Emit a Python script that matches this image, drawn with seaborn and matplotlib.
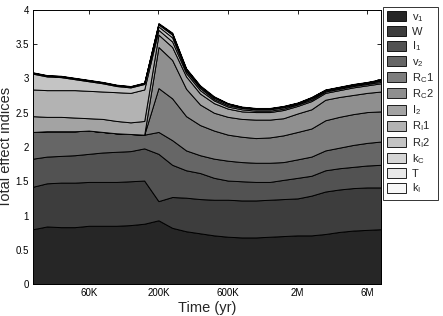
import numpy as np
import matplotlib
matplotlib.use("Agg")
import matplotlib.pyplot as plt
from matplotlib.patches import Patch
import seaborn as sns

times = [25.1e3, 31.6e3, 39.8e3, 50.1e3, 63.1e3, 79.4e3, 100e3, 126e3, 158e3,
         200e3, 251e3, 316e3, 398e3, 501e3, 631e3, 794e3, 1.0e6, 1.26e6, 1.58e6,
         2.0e6, 2.51e6, 3.16e6, 3.98e6, 5.01e6, 6.31e6, 7.94e6]

v1 = [0.80, 0.84, 0.83, 0.83, 0.85, 0.85, 0.85, 0.86, 0.88,
      0.93, 0.82, 0.77, 0.74, 0.71, 0.69, 0.68, 0.68, 0.69, 0.70, 0.71, 0.71, 0.73, 0.76, 0.78, 0.79, 0.80]
W = [0.62, 0.63, 0.65, 0.65, 0.64, 0.64, 0.64, 0.64, 0.63,
     0.28, 0.45, 0.49, 0.50, 0.52, 0.54, 0.54, 0.54, 0.54, 0.54, 0.54, 0.58, 0.62, 0.62, 0.62, 0.62, 0.61]
I1 = [0.41, 0.39, 0.39, 0.40, 0.41, 0.43, 0.44, 0.44, 0.47,
      0.69, 0.47, 0.40, 0.38, 0.32, 0.28, 0.28, 0.27, 0.26, 0.28, 0.30, 0.29, 0.31, 0.31, 0.31, 0.32, 0.33]
v2 = [0.39, 0.37, 0.36, 0.35, 0.34, 0.30, 0.27, 0.25, 0.20,
      0.32, 0.36, 0.29, 0.26, 0.28, 0.29, 0.28, 0.28, 0.28, 0.26, 0.27, 0.28, 0.29, 0.30, 0.32, 0.33, 0.34]
RC1 = [0, 0, 0, 0, 0, 0, 0, 0, 0,
       0.64, 0.61, 0.50, 0.44, 0.41, 0.38, 0.37, 0.36, 0.37, 0.39, 0.40, 0.41, 0.44, 0.45, 0.45, 0.45, 0.44]
RC2 = [0, 0, 0, 0, 0, 0, 0, 0, 0,
       0.60, 0.56, 0.40, 0.30, 0.26, 0.26, 0.26, 0.27, 0.26, 0.25, 0.27, 0.28, 0.30, 0.29, 0.28, 0.28, 0.29]
I2 = [0.23, 0.21, 0.21, 0.20, 0.18, 0.19, 0.18, 0.17, 0.20,
      0.18, 0.19, 0.18, 0.16, 0.14, 0.12, 0.11, 0.11, 0.11, 0.12, 0.11, 0.12, 0.10, 0.10, 0.11, 0.11, 0.12]
RI1 = [0.39, 0.39, 0.39, 0.40, 0.40, 0.40, 0.42, 0.43, 0.46,
       0.07, 0.08, 0.05, 0.05, 0.04, 0.03, 0.03, 0.02, 0.02, 0.02, 0.02, 0.02, 0.02, 0.02, 0.02, 0.02, 0.02]
RI2 = [0.23, 0.20, 0.19, 0.16, 0.14, 0.12, 0.09, 0.08, 0.08,
       0.05, 0.06, 0.03, 0.03, 0.02, 0.02, 0.02, 0.02, 0.02, 0.02, 0.01, 0.02, 0.01, 0.01, 0.01, 0.01, 0.02]
kC = [0.01, 0.01, 0.01, 0.01, 0.01, 0.01, 0.01, 0.01, 0.01,
      0.03, 0.04, 0.02, 0.02, 0.02, 0.02, 0.01, 0.01, 0.01, 0.01, 0.01, 0.01, 0.01, 0.01, 0.01, 0.01, 0.01]
T = [0.005, 0.005, 0.005, 0.005, 0.005, 0.005, 0.005, 0.005, 0.005,
     0.01, 0.02, 0.01, 0.01, 0.01, 0.005, 0.005, 0.005, 0.005, 0.005, 0.005, 0.005, 0.005, 0.005, 0.005, 0.005, 0.005]
kI = [0.005, 0.005, 0.005, 0.005, 0.005, 0.005, 0.005, 0.005, 0.005,
      0.01, 0.01, 0.01, 0.01, 0.01, 0.005, 0.005, 0.005, 0.005, 0.005, 0.005, 0.005, 0.005, 0.005, 0.005, 0.005, 0.005]

series_labels = ["v$_1$", "W", "I$_1$", "v$_2$", "R$_C$1", "R$_C$2", "I$_2$",
                 "R$_I$1", "R$_I$2", "k$_C$", "T", "k$_I$"]
gray_levels = [0.15, 0.24, 0.32, 0.40, 0.49, 0.56, 0.64, 0.70, 0.77, 0.84, 0.91, 0.97]
xtick_vals = [63.1e3, 200e3, 631e3, 2.0e6, 6.31e6]
xtick_labels = ["60K", "200K", "600K", "2M", "6M"]
ytick_vals = [0, 0.5, 1, 1.5, 2, 2.5, 3, 3.5, 4]
ytick_labels = ["0", "0.5", "1", "1.5", "2", "2.5", "3", "3.5", "4"]

sns.set_style("ticks")
plt.rcParams["font.family"] = ["Liberation Sans", "DejaVu Sans"]
plt.rcParams["mathtext.default"] = "regular"

series = [v1, W, I1, v2, RC1, RC2, I2, RI1, RI2, kC, T, kI]
colors = [(g, g, g) for g in gray_levels]

fig = plt.figure(figsize=(4.43, 3.16), dpi=100)
ax = fig.add_axes([33 / 443, 1 - 284 / 316, (381 - 33) / 443, (284 - 10) / 316])

ax.stackplot(times, *series, colors=colors, edgecolor="black", linewidth=0.7)

ax.set_xscale("log")
ax.set_xlim(times[0], times[-1])
ax.set_ylim(0, 4)
ax.set_xticks(xtick_vals)
ax.set_xticklabels(xtick_labels)
ax.xaxis.set_minor_locator(matplotlib.ticker.NullLocator())
ax.set_yticks(ytick_vals)
ax.set_yticklabels(ytick_labels)
ax.tick_params(direction="in", top=True, right=True, labelsize=7, length=3,
               width=0.6, pad=3, colors="black")
for s in ax.spines.values():
    s.set_linewidth(0.7)
    s.set_color("black")
    s.set_visible(True)

ax.set_xlabel("Time (yr)", fontsize=10.5, labelpad=2)
ax.set_ylabel("Total effect indices", fontsize=10.5, labelpad=2)

handles = [Patch(facecolor=c, edgecolor="black", linewidth=0.6) for c in colors]
leg = fig.legend(handles, series_labels, loc="upper left",
                 bbox_to_anchor=(383 / 443, 1 - 7 / 316), fontsize=8,
                 frameon=True, fancybox=False, edgecolor="black",
                 handlelength=1.7, handleheight=1.0, labelspacing=0.22,
                 handletextpad=0.5, borderpad=0.4, borderaxespad=0)
leg.get_frame().set_linewidth(0.7)

fig.savefig("out.png", dpi=100)
